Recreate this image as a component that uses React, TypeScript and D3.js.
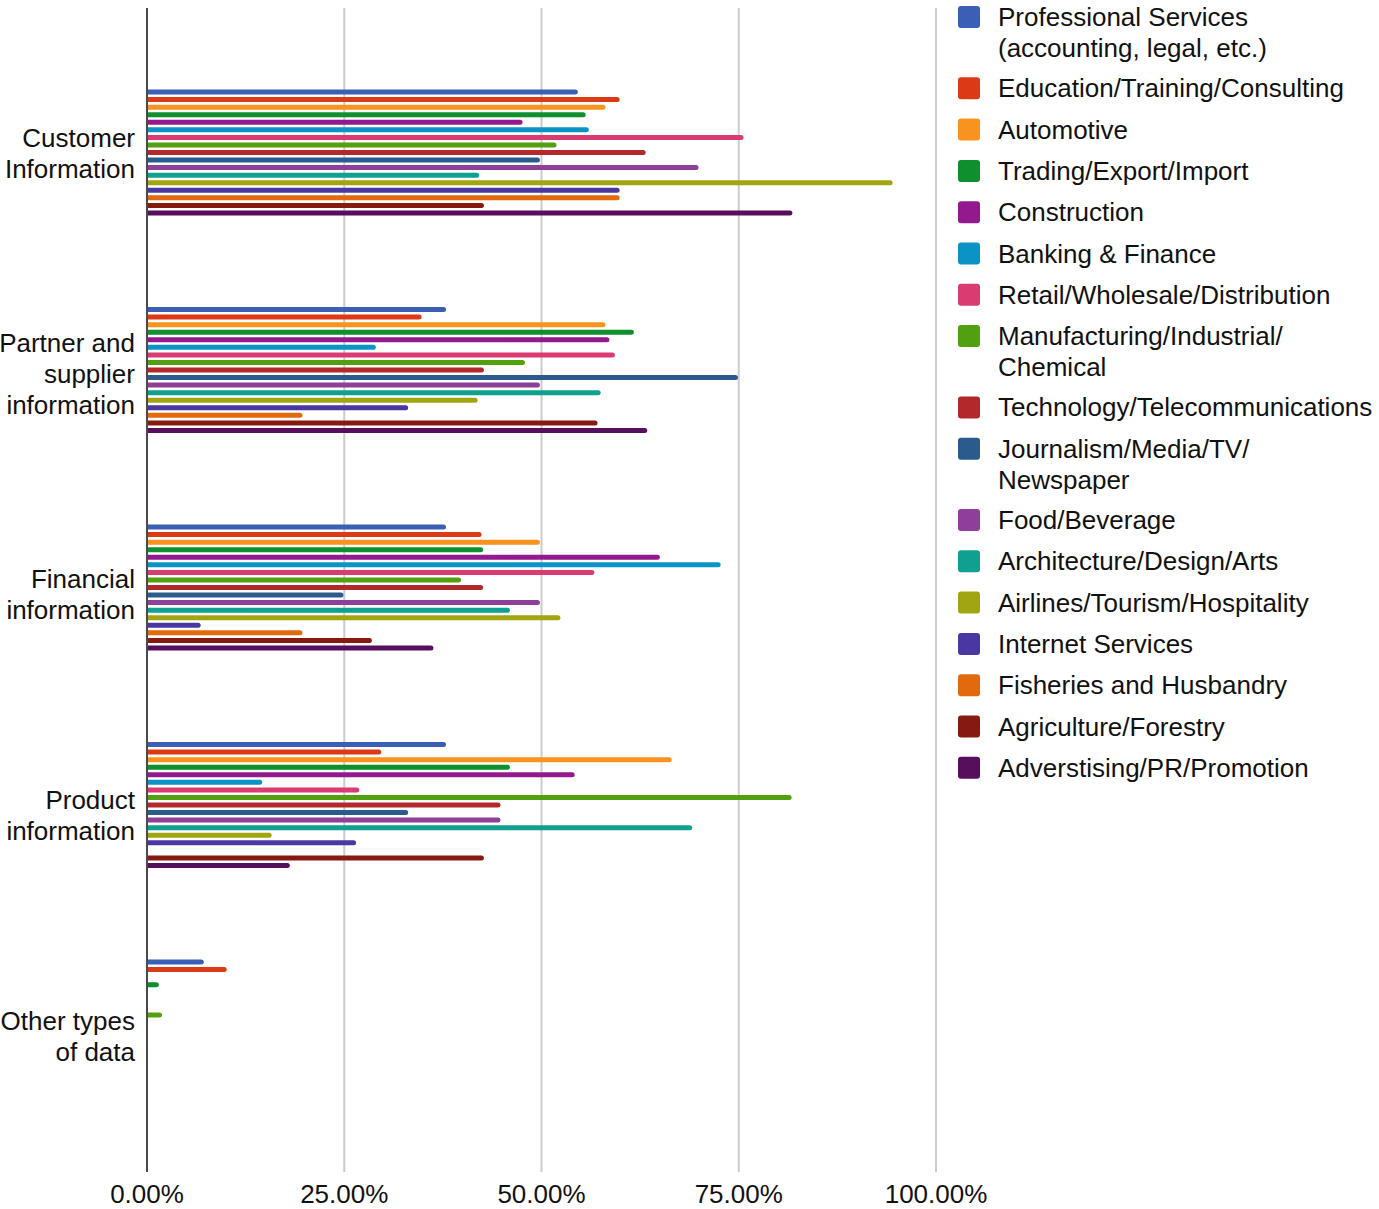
import React, { useEffect, useRef } from 'react'
import * as d3 from 'd3'

const categories = [
  'Customer\nInformation',
  'Partner and\nsupplier\ninformation',
  'Financial\ninformation',
  'Product\ninformation',
  'Other types\nof data',
]

const seriesNames = [
  'Professional Services\n(accounting, legal, etc.)',
  'Education/Training/Consulting',
  'Automotive',
  'Trading/Export/Import',
  'Construction',
  'Banking & Finance',
  'Retail/Wholesale/Distribution',
  'Manufacturing/Industrial/\nChemical',
  'Technology/Telecommunications',
  'Journalism/Media/TV/\nNewspaper',
  'Food/Beverage',
  'Architecture/Design/Arts',
  'Airlines/Tourism/Hospitality',
  'Internet Services',
  'Fisheries and Husbandry',
  'Agriculture/Forestry',
  'Adverstising/PR/Promotion',
]

const seriesColors = [
  '#3a5fb4', '#dc3a16', '#f7931e', '#0f8f2e', '#93198f', '#0b93c6',
  '#da3b70', '#52a010', '#b3282b', '#2b5b8d', '#8e3f98', '#0fa08f',
  '#a2a512', '#4a37a2', '#e26a0d', '#861910', '#570e5d',
]

// percent values, one entry per series (same order as seriesNames)
const customerValues = [54.6, 59.9, 58.1, 55.6, 47.6, 56.0, 75.6, 51.9, 63.2, 49.8, 69.9, 42.1, 94.5, 59.9, 59.9, 42.7, 81.8]
const partnerValues = [37.9, 34.8, 58.1, 61.7, 58.6, 29.0, 59.3, 47.9, 42.7, 74.9, 49.8, 57.5, 41.9, 33.1, 19.7, 57.1, 63.4]
const financialValues = [37.9, 42.4, 49.8, 42.6, 65.0, 72.7, 56.7, 39.8, 42.6, 24.9, 49.8, 46.0, 52.4, 6.8, 19.7, 28.5, 36.3]
const productValues = [37.9, 29.7, 66.5, 46.0, 54.2, 14.6, 26.9, 81.7, 44.8, 33.1, 44.8, 69.1, 15.8, 26.5, 0, 42.7, 18.1]
const otherValues = [7.2, 10.1, 0, 1.5, 0, 0, 0, 1.9, 0, 0, 0, 0, 0, 0, 0, 0, 0]

const categoryValues = [customerValues, partnerValues, financialValues, productValues, otherValues]

const xTicks = [0, 0.25, 0.5, 0.75, 1]

const WIDTH = 1379
const HEIGHT = 1209
const FONT = '"Liberation Sans", Arial, Helvetica, sans-serif'

export default function App() {
  const svgRef = useRef<SVGSVGElement>(null)

  useEffect(() => {
    if (!svgRef.current) return
    const svg = d3.select(svgRef.current)
    svg.selectAll('*').remove()

    const x = d3.scaleLinear().domain([0, 1]).range([147, 936])
    const plotTop = 8
    const plotBottom = 1172

    const y = d3.scaleBand().domain(categories).range([43.75, 1131.25])
    const barStep = 7.56
    const barH = 5
    const groupH = barStep * (seriesNames.length - (1 - barH / barStep))
    const inner = d3
      .scaleBand()
      .domain(seriesNames)
      .range([-groupH / 2, groupH / 2])
      .paddingInner(1 - barH / barStep)
    const labelY = d3.scalePoint().domain(categories).range([153.5, 1036])

    // gridlines
    svg
      .append('g')
      .selectAll('line')
      .data(xTicks.slice(1))
      .join('line')
      .attr('x1', (d) => x(d))
      .attr('x2', (d) => x(d))
      .attr('y1', plotTop)
      .attr('y2', plotBottom)
      .attr('stroke', '#cccccc')
      .attr('stroke-width', 2)

    svg
      .append('defs')
      .append('clipPath')
      .attr('id', 'plot-clip')
      .append('rect')
      .attr('x', x(0))
      .attr('y', 0)
      .attr('width', WIDTH - x(0))
      .attr('height', HEIGHT)

    const bars = svg.append('g').attr('clip-path', 'url(#plot-clip)')

    categories.forEach((cat, ci) => {
      const center = (y(cat) || 0) + y.bandwidth() / 2
      const rows = categoryValues[ci]
        .map((v, si) => ({ v, si }))
        .filter((d) => d.v > 0)
      bars
        .append('g')
        .selectAll('rect')
        .data(rows)
        .join('rect')
        .attr('x', x(0) - 4)
        .attr('y', (d) => center + (inner(seriesNames[d.si]) || 0))
        .attr('width', (d) => x(d.v / 100) - x(0) + 4)
        .attr('height', inner.bandwidth())
        .attr('rx', inner.bandwidth() / 2)
        .attr('fill', (d) => seriesColors[d.si])
    })

    // baseline axis
    svg
      .append('line')
      .attr('x1', x(0))
      .attr('x2', x(0))
      .attr('y1', plotTop)
      .attr('y2', plotBottom)
      .attr('stroke', '#4a4a4a')
      .attr('stroke-width', 2)

    // x tick labels
    svg
      .append('g')
      .selectAll('text')
      .data(xTicks)
      .join('text')
      .attr('x', (d) => x(d))
      .attr('y', 1203)
      .attr('text-anchor', 'middle')
      .attr('font-family', FONT)
      .attr('font-size', 26)
      .attr('fill', '#111')
      .text((d) => d3.format('.2%')(d))

    // category labels
    const lineH = 31
    svg
      .append('g')
      .selectAll('text')
      .data(categories)
      .join('text')
      .attr('text-anchor', 'end')
      .attr('font-family', FONT)
      .attr('font-size', 26)
      .attr('fill', '#111')
      .each(function (d) {
        const lines = d.split('\n')
        const top = (labelY(d) || 0) - ((lines.length - 1) * lineH) / 2
        d3.select(this)
          .selectAll('tspan')
          .data(lines)
          .join('tspan')
          .attr('x', 135)
          .attr('y', (_, i) => top + i * lineH)
          .attr('dy', '0.35em')
          .text((l) => l)
      })

    // legend
    const legend = svg.append('g')
    let extra = 0
    seriesNames.forEach((name, i) => {
      const lines = name.split('\n')
      const base = 26 + i * 41.3 + extra * 30
      extra += lines.length - 1
      const g = legend.append('g')
      g.append('rect')
        .attr('x', 958)
        .attr('y', base - 9 - 11)
        .attr('width', 22)
        .attr('height', 22)
        .attr('rx', 3)
        .attr('fill', seriesColors[i])
      g.append('text')
        .attr('font-family', FONT)
        .attr('font-size', 26)
        .attr('fill', '#111')
        .selectAll('tspan')
        .data(lines)
        .join('tspan')
        .attr('x', 998)
        .attr('y', (_, j) => base + j * lineH)
        .text((l) => l)
    })
  }, [])

  return (
    <svg
      ref={svgRef}
      width={WIDTH}
      height={HEIGHT}
      style={{ position: 'absolute', left: 0, top: 0, background: '#fff' }}
    />
  )
}
